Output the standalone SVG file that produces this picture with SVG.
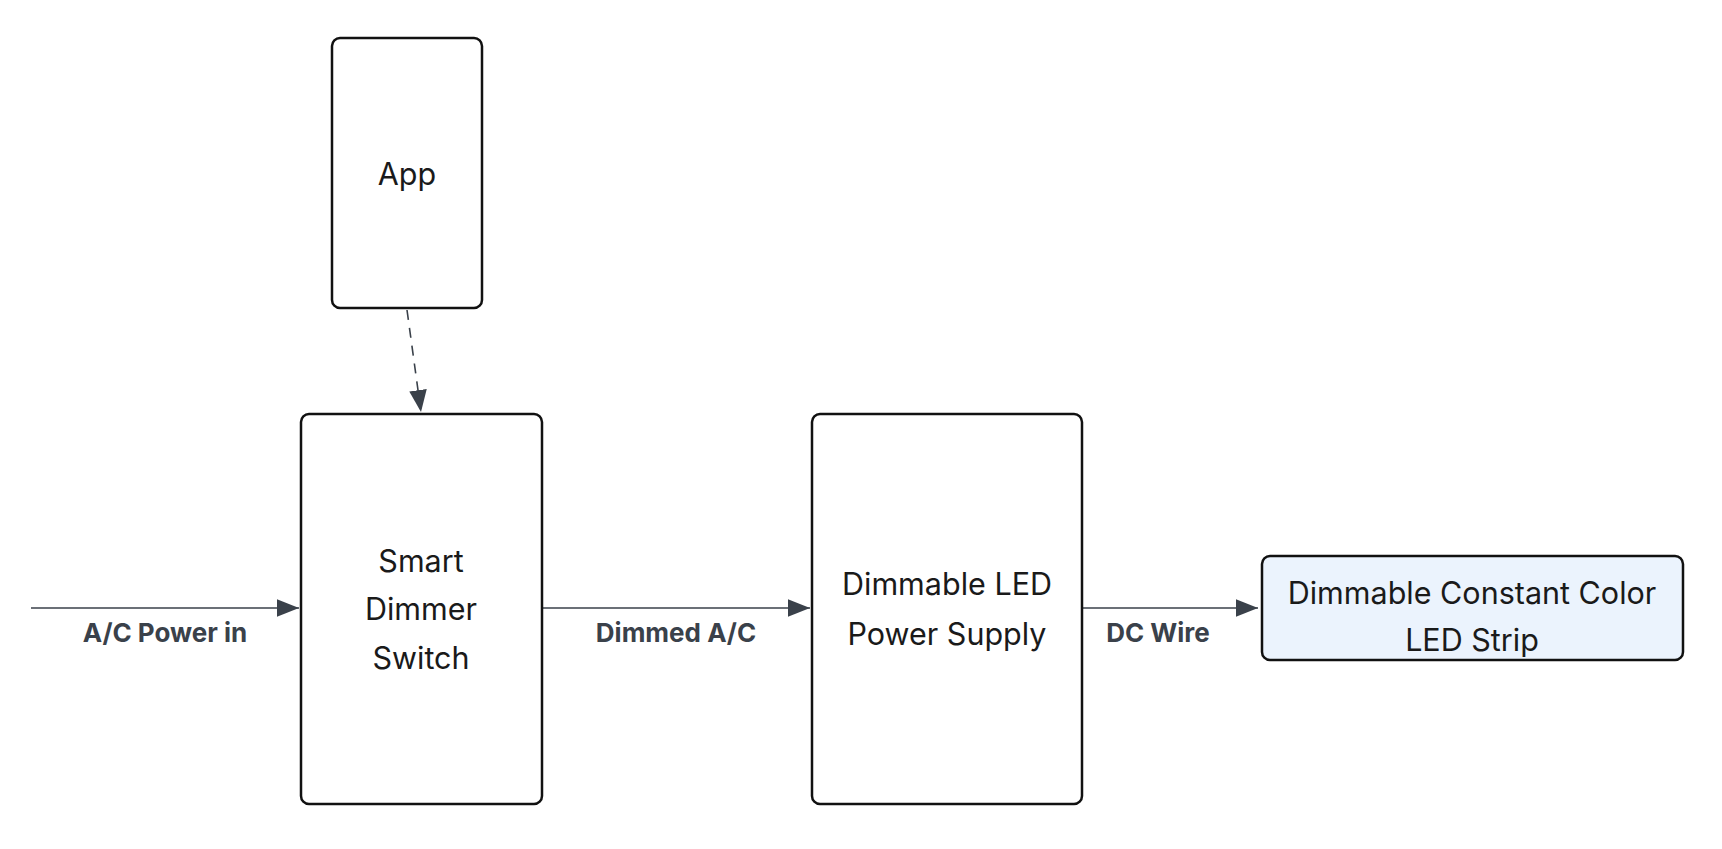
<svg xmlns="http://www.w3.org/2000/svg" width="1722" height="849" viewBox="0 0 1722 849">
<style>
.n{fill:#fff;stroke:#111;stroke-width:2.5}
.t{font-family:Inter,"Liberation Sans",sans-serif;font-size:30.5px;fill:#1a1a1a;text-anchor:middle;dominant-baseline:central}
.l{font-family:Inter,"Liberation Sans",sans-serif;font-size:26px;font-weight:bold;fill:#3a414a;text-anchor:middle;dominant-baseline:central}
.c{stroke:#3a414a;stroke-width:1.6;fill:none}
</style>
<defs><marker id="b" viewBox="0 0 10 10" refX="10" refY="5" markerWidth="22" markerHeight="22" markerUnits="userSpaceOnUse" orient="auto"><path d="M0,1L10,5L0,9z" fill="#3a414a"/></marker></defs>
<g id="connectors">
<path class="c" d="M31,608H299" marker-end="url(#b)"/>
<path class="c" d="M542,608H810" marker-end="url(#b)"/>
<path class="c" d="M1082,608H1258" marker-end="url(#b)"/>
<path class="c" d="M407,310L421,412" stroke-dasharray="10,8" marker-end="url(#b)"/>
<text class="l" x="165" y="632">A/C Power in</text>
<text class="l" x="676" y="632">Dimmed A/C</text>
<text class="l" x="1158" y="632">DC Wire</text>
</g>
<g id="app"><rect class="n" x="332" y="38" width="150" height="270" rx="8"/><text class="t" x="407" y="173">App</text></g>
<g id="dimmer"><rect class="n" x="301" y="414" width="241" height="390" rx="8"/><text class="t" x="421" y="560">Smart</text><text class="t" x="421" y="608">Dimmer</text><text class="t" x="421" y="657">Switch</text></g>
<g id="psu"><rect class="n" x="812" y="414" width="270" height="390" rx="8"/><text class="t" x="947" y="583">Dimmable LED</text><text class="t" x="947" y="633">Power Supply</text></g>
<g id="strip"><rect class="n" x="1262" y="556" width="421" height="104" rx="8" style="fill:#ebf3fd"/><text class="t" x="1472" y="592">Dimmable Constant Color</text><text class="t" x="1472" y="639">LED Strip</text></g>
</svg>
